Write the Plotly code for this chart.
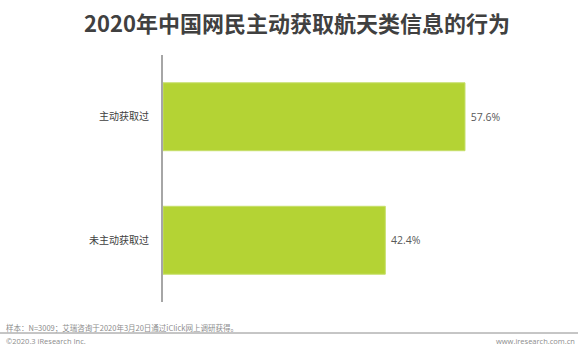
import plotly.graph_objects as go

categories = ["主动获取过", "未主动获取过"]
values = [57.6, 42.4]
value_labels = ["57.6%", "42.4%"]
title_text = "2020年中国网民主动获取航天类信息的行为"
note_text = "样本：N=3009；艾瑞咨询于2020年3月20日通过iClick网上调研获得。"
copyright_text = "©2020.3 iResearch Inc."
site_text = "www.iresearch.com.cn"

W, H = 580, 352
L, R, T, B = 163, 530, 55, 302
ML, MR, MT, MB = L, W - R, T, H - B

def px(x):
    return (x - L) / (R - L)

def py(y):
    return (B - y) / (B - T)

CJK = "Noto Sans CJK SC, Open Sans, sans-serif"

fig = go.Figure(go.Bar(
    y=categories, x=values, orientation="h",
    marker=dict(color="#b4d334", line=dict(color="#c6df6a", width=1)),
    width=0.55,
    text=value_labels, texttemplate=" %{text}", textposition="outside",
    textfont=dict(family="Open Sans, sans-serif", size=10.5, color="#595959"),
    cliponaxis=False,
))

fig.update_layout(
    width=W, height=H,
    margin=dict(l=ML, r=MR, t=MT, b=MB, pad=0),
    paper_bgcolor="white", plot_bgcolor="white",
    showlegend=False,
    xaxis=dict(range=[0, 70], visible=False, fixedrange=True),
    yaxis=dict(
        categoryorder="array", categoryarray=categories, autorange="reversed",
        showline=True, linecolor="#a6a6a6", linewidth=2,
        showgrid=False, zeroline=False, ticks="",
        ticklabelstandoff=10,
        tickfont=dict(family=CJK, size=10, color="#404040"),
    ),
    annotations=[
        dict(text="<b>" + title_text + "</b>", xref="paper", yref="paper",
             x=px(297), y=py(22), xanchor="center", yanchor="middle",
             showarrow=False, font=dict(family=CJK, size=22, color="#404040")),
        dict(text=note_text, xref="paper", yref="paper",
             x=px(4), y=py(327), xanchor="left", yanchor="middle",
             showarrow=False, font=dict(family=CJK, size=7.5, color="#8c8c8c")),
        dict(text=copyright_text, xref="paper", yref="paper",
             x=px(4), y=py(341), xanchor="left", yanchor="middle",
             showarrow=False, font=dict(family="Open Sans, sans-serif", size=7.5, color="#8c8c8c")),
        dict(text=site_text, xref="paper", yref="paper",
             x=px(577), y=py(341), xanchor="right", yanchor="middle",
             showarrow=False, font=dict(family="Open Sans, sans-serif", size=7.5, color="#8c8c8c")),
    ],
    shapes=[
        dict(type="line", xref="paper", yref="paper",
             x0=px(0), x1=px(578), y0=py(333), y1=py(333),
             line=dict(color="#8c8c8c", width=1)),
    ],
)

fig.write_html("out.html")
